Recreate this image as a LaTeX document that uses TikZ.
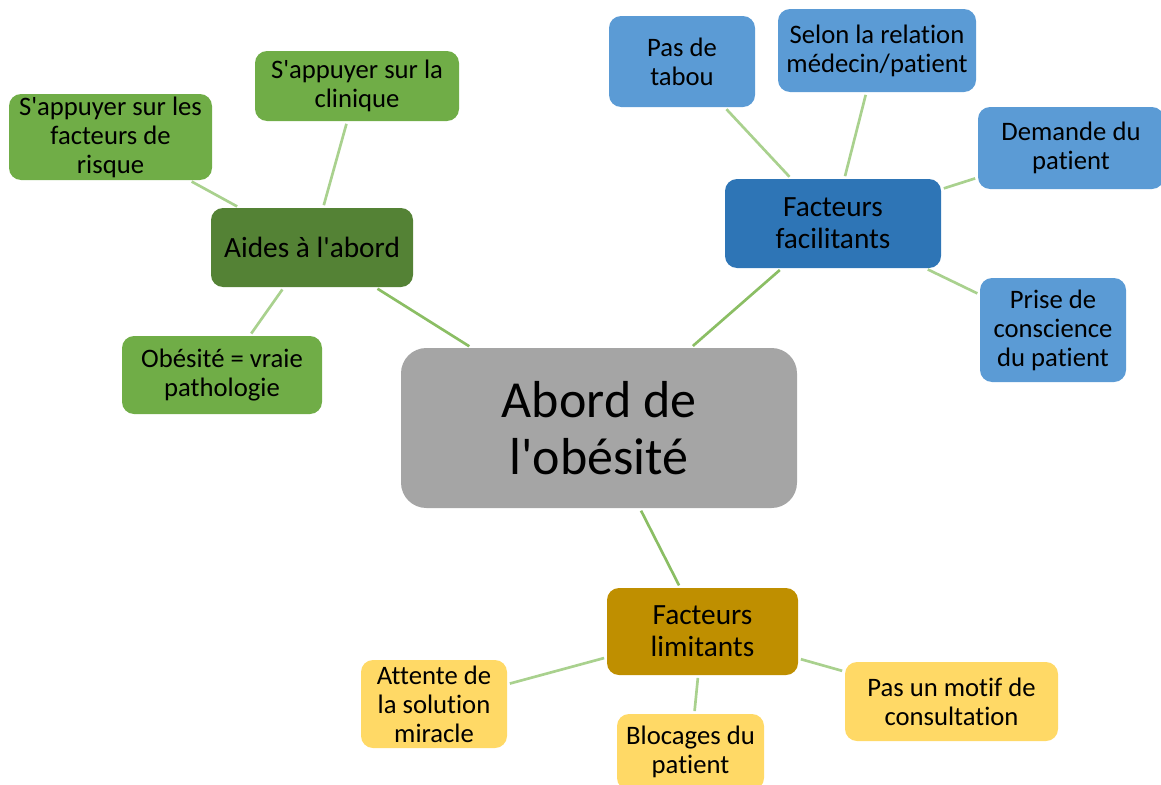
\documentclass[tikz,border=0pt]{standalone}
\usepackage{fontspec}
\setmainfont{Carlito}[Ligatures={NoCommon}]
\usepackage{xcolor}
\definecolor{gris}{HTML}{A5A5A5}
\definecolor{vertfonce}{HTML}{548235}
\definecolor{vert}{HTML}{70AD47}
\definecolor{bleufonce}{HTML}{2E75B6}
\definecolor{bleu}{HTML}{5B9BD5}
\definecolor{ocre}{HTML}{BF8F00}
\definecolor{jaune}{HTML}{FFD966}
\definecolor{liengras}{HTML}{8BBE64}
\definecolor{lienclair}{HTML}{A9D18E}
\newcommand{\apo}{\textquotesingle}

\begin{document}
\begin{tikzpicture}[x=0.75pt, y=-0.75pt,
    every node/.style = {shape=rectangle, rounded corners=9pt,
      align=center, inner sep=0pt},
    taille/.style 2 args = {minimum width=#1*0.75pt, minimum height=#2*0.75pt},
    racine/.style = {fill=gris, rounded corners=19pt,
      font=\fontsize{39}{42.75}\selectfont},
    branche/.style = {font=\fontsize{22}{24}\selectfont},
    feuille/.style = {font=\fontsize{20}{21.75}\selectfont},
    lien/.style = {line width=2pt, shorten >=2pt, shorten <=2pt}]
  \clip (0,0) rectangle (1161,785);
  % centre
  \node[racine, taille={396}{160}] (abord) at (599,428) {Abord de\\l\apo obésité};
  % branches
  \node[branche, fill=vertfonce, taille={202}{79}] (aides) at (312,247.5) {Aides à l\apo abord};
  \node[branche, fill=bleufonce, taille={216}{89}] (facil) at (833,223.5) {Facteurs\\facilitants};
  \node[branche, fill=ocre, taille={191}{87}] (limit) at (702.5,631.5) {Facteurs\\limitants};
  % feuilles
  \node[feuille, fill=vert, taille={203}{86}] (risque) at (110.5,137) {S\apo appuyer sur les\\facteurs de\\risque};
  \node[feuille, fill=vert, taille={204}{70}] (clinique) at (357,86) {S\apo appuyer sur la\\clinique};
  \node[feuille, fill=vert, taille={200}{78}] (patho) at (222,375) {Obésité = vraie\\pathologie};
  \node[feuille, fill=bleu, taille={146}{91}] (tabou) at (682,61.5) {Pas de\\tabou};
  \node[feuille, fill=bleu, taille={198}{83}] (relation) at (877,50.5) {Selon la relation\\médecin/patient};
  \node[feuille, fill=bleu, taille={186}{82}] (demande) at (1071,148) {Demande du\\patient};
  \node[feuille, fill=bleu, taille={146}{104}] (prise) at (1053,330) {Prise de\\conscience\\du patient};
  \node[feuille, fill=jaune, taille={146}{88}] (attente) at (434,704) {Attente de\\la solution\\miracle};
  \node[feuille, fill=jaune, taille={147}{76}] (blocage) at (690.5,752) {Blocages du\\patient};
  \node[feuille, fill=jaune, taille={213}{79}] (motif) at (951.5,701.5) {Pas un motif de\\consultation};
  % liens
  \foreach \b in {aides, facil, limit}
    \draw[lien, liengras] (abord) -- (\b);
  \foreach \a/\b in {aides/risque, aides/clinique, aides/patho,
      facil/tabou, facil/relation, facil/demande, facil/prise,
      limit/attente, limit/blocage, limit/motif}
    \draw[lien, lienclair] (\a) -- (\b);
\end{tikzpicture}
\end{document}
